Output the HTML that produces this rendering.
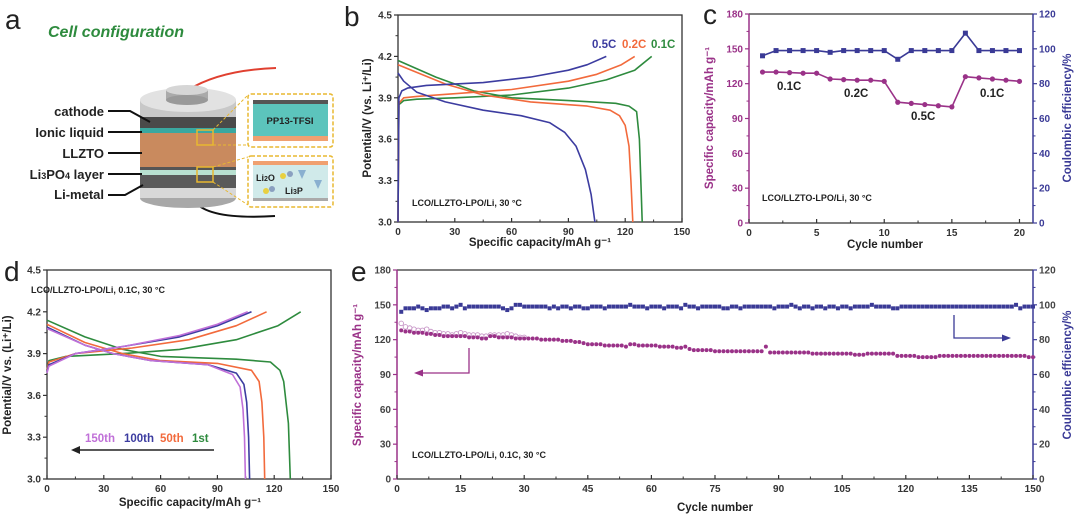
<!DOCTYPE html>
<html><head><meta charset="utf-8"><style>
html,body{margin:0;padding:0;background:#fff;}
svg{display:block;font-family:"Liberation Sans",Arial,sans-serif;}
</style></head><body>
<svg id="fig" width="1080" height="517" viewBox="0 0 1080 517">
<g id="panel-a">
<text x="5" y="29" font-size="28" fill="#222">a</text>
<text x="48" y="37" font-size="16" font-weight="bold" font-style="italic" fill="#2e8b3e">Cell configuration</text>
<path d="M188 90 Q220 70 276 68" stroke="#e04030" stroke-width="2" fill="none"/>
<path d="M195 202 Q210 220 275 216" stroke="#111" stroke-width="2" fill="none"/>
<g>
<ellipse cx="188" cy="198" rx="48" ry="10" fill="#a8a8a8"/>
<rect x="140" y="100" width="96" height="98" fill="#c8c8c8"/>
<rect x="140" y="117" width="96" height="11" fill="#4a4a4a"/>
<rect x="140" y="128" width="96" height="5" fill="#3aa8a0"/>
<rect x="140" y="133" width="96" height="34" fill="#c98a5e"/>
<rect x="140" y="167" width="96" height="3" fill="#555"/>
<rect x="140" y="170" width="96" height="5" fill="#b8e0d0"/>
<rect x="140" y="175" width="96" height="13" fill="#5a5a5a"/>
<rect x="140" y="188" width="96" height="10" fill="#d8d8d8"/>
<ellipse cx="188" cy="100" rx="48" ry="12" fill="#e2e2e2"/>
<rect x="166" y="90" width="42" height="10" fill="#aaa"/>
<ellipse cx="187" cy="100" rx="21" ry="5" fill="#999"/>
<ellipse cx="187" cy="90" rx="21" ry="5" fill="#d6d6d6"/>
<rect x="197" y="130" width="16" height="15" fill="none" stroke="#e8b830" stroke-width="1.5"/>
<rect x="197" y="167" width="16" height="15" fill="none" stroke="#e8b830" stroke-width="1.5"/>
<path d="M213 130 L248 95 M213 145 L248 145 M213 167 L248 157 M213 182 L248 205" stroke="#e8b830" stroke-width="1" stroke-dasharray="3,2" fill="none"/>
</g>
<g>
<rect x="248" y="94" width="85" height="53" rx="3" fill="#fff" stroke="#e8b830" stroke-width="1.5" stroke-dasharray="4,2"/>
<rect x="253" y="100" width="75" height="4" fill="#555"/>
<rect x="253" y="104" width="75" height="32" fill="#5cc4bc"/>
<rect x="253" y="136" width="75" height="5" fill="#f0a070"/>
<text x="290" y="124" font-size="9.5" font-weight="bold" text-anchor="middle" fill="#222">PP13-TFSI</text>
</g>
<g>
<rect x="248" y="156" width="85" height="51" rx="3" fill="#fff" stroke="#e8b830" stroke-width="1.5" stroke-dasharray="4,2"/>
<rect x="253" y="161" width="75" height="4" fill="#f0a070"/>
<rect x="253" y="165" width="75" height="33" fill="#d0eaea"/>
<rect x="253" y="198" width="75" height="3" fill="#aaa"/>
<text x="256" y="181" font-size="9" font-weight="bold" fill="#222">Li<tspan font-size="7">2</tspan>O</text>
<text x="285" y="194" font-size="9" font-weight="bold" fill="#222">Li<tspan font-size="7">3</tspan>P</text>
<circle cx="283" cy="176" r="3" fill="#e8d040"/><circle cx="290" cy="174" r="3" fill="#8aa0c0"/>
<circle cx="266" cy="191" r="3" fill="#e8d040"/><circle cx="272" cy="189" r="3" fill="#8aa0c0"/>
<path d="M298 170 l8 0 l-4 9 z" fill="#8ab0d0"/><path d="M314 180 l8 0 l-4 9 z" fill="#8ab0d0"/>
</g>
<g font-size="13" font-weight="bold" fill="#222" text-anchor="end">
<text x="104" y="116">cathode</text>
<text x="104" y="137">Ionic liquid</text>
<text x="104" y="158">LLZTO</text>
<text x="104" y="179">Li<tspan font-size="9">3</tspan>PO<tspan font-size="9">4</tspan> layer</text>
<text x="104" y="199">Li-metal</text>
</g>
<path d="M108 111 L130 111 L150 122 M108 132 L142 132 M108 153 L142 153 M108 174 L142 174 M108 195 L125 195 L143 185" stroke="#111" stroke-width="2" fill="none"/>
</g>
</svg>
<script>
// ---------- data ----------
const bXTicks=[0,30,60,90,120,150];
const bYTicks=[3.0,3.3,3.6,3.9,4.2,4.5];
const b01ChargeCap=[0,0.5,3,10,30,60,90,110,125,134];
const b01ChargeV=[3.0,3.85,3.88,3.89,3.9,3.92,3.97,4.03,4.1,4.2];
const b02ChargeCap=[0,0.5,3,10,30,60,90,105,118,125];
const b02ChargeV=[3.0,3.86,3.9,3.91,3.93,3.96,4.02,4.07,4.14,4.2];
const b05ChargeCap=[0,0.5,2,5,15,45,70,90,100,110];
const b05ChargeV=[3.0,3.9,3.95,3.97,3.99,4.01,4.05,4.1,4.14,4.2];
const b01DischCap=[0,20,40,60,90,115,122,126,127.5,128.5,129];
const b01DischV=[4.17,4.05,3.95,3.9,3.88,3.86,3.84,3.8,3.6,3.2,3.0];
const b02DischCap=[0,25,45,70,100,112,117,120,122,123,124];
const b02DischV=[4.14,4.0,3.92,3.87,3.84,3.81,3.77,3.7,3.55,3.3,3.0];
const b05DischCap=[0,3,10,25,45,65,80,88,94,99,102,104];
const b05DischV=[4.08,4.02,3.94,3.87,3.81,3.77,3.72,3.65,3.55,3.38,3.2,3.0];

const cCycles=[1,2,3,4,5,6,7,8,9,10,11,12,13,14,15,16,17,18,19,20];
const cCapacity=[130,130,129.5,129,129,124,123.5,123,123,122,104,103,102,101,100,126,125,124,123,122];
const cEfficiency=[96,99,99,99,99,98,99,99,99,99,94,99,99,99,99,109,99,99,99,99];
const cXTicks=[0,5,10,15,20];
const cYTicks=[0,30,60,90,120,150,180];
const cY2Ticks=[0,20,40,60,80,100,120];

const d1ChargeCap=[0,1,10,40,70,100,122,134];
const d1ChargeV=[3.78,3.85,3.88,3.9,3.93,4.0,4.1,4.2];
const d50ChargeCap=[0,1,15,45,75,100,116];
const d50ChargeV=[3.78,3.84,3.9,3.94,4.0,4.1,4.2];
const d100ChargeCap=[0,1,15,40,70,90,108];
const d100ChargeV=[3.77,3.82,3.9,3.95,4.02,4.1,4.2];
const d150ChargeCap=[0,1,15,40,70,90,106];
const d150ChargeV=[3.76,3.81,3.9,3.95,4.03,4.11,4.2];
const d1DischCap=[0,20,40,60,100,118,123,125,127.5,128.5];
const d1DischV=[4.14,4.02,3.93,3.88,3.86,3.84,3.78,3.7,3.4,3.0];
const d50DischCap=[0,20,40,60,90,108,112,113.5,114.5,115];
const d50DischV=[4.11,3.98,3.9,3.85,3.83,3.78,3.7,3.55,3.3,3.0];
const d100DischCap=[0,20,35,55,85,100,104,105.5,106.5,107];
const d100DischV=[4.09,3.96,3.9,3.85,3.82,3.76,3.68,3.55,3.3,3.0];
const d150DischCap=[0,20,35,55,85,98,102,103.5,104.3,104.8];
const d150DischV=[4.08,3.96,3.9,3.85,3.82,3.75,3.66,3.5,3.3,3.0];

const eCapacity=[128,127,127,126,126,126,125,125,124,124,
123,123,123,123,123,123,122,122,122,121,
121,123,123,122,122,122,122,121,121,121,
121,121,121,120,120,120,120,120,119,119,
119,118,118,117,116,116,116,116,115,115,
115,115,115,114,116,116,115,115,115,115,
115,114,114,114,114,113,113,114,112,111,
111,111,111,111,110,110,110,110,110,110,
110,110,110,110,110,110,114,109,109,109,
109,109,109,109,109,109,109,108,108,108,
108,108,108,108,108,108,108,107,107,107,
108,108,108,108,108,108,108,106,106,106,
106,106,105,105,105,105,105,106,106,106,
106,106,106,106,106,106,106,106,106,106,
106,106,106,106,106,106,106,106,105,105];
const eChargeCapacity=[134,131,130,129,128,128,129,127,126,126,125,125,124,125,126,125,124,124,124,123,123,124,124,124,124,125,124,123,122,122];
const eEfficiency=[96,98,98,98,99,98,97,98,98,98,
99,99,98,99,100,98,99,99,99,99,
99,99,99,99,98,97,98,100,100,99,
99,99,99,99,99,98,99,98,99,99,
98,99,99,98,98,99,99,99,98,99,
99,99,99,99,100,99,99,99,98,99,
99,99,98,99,99,99,98,100,99,99,
98,99,99,99,99,99,98,98,99,99,
98,99,99,99,99,99,99,99,98,99,
99,99,100,99,98,99,99,98,99,99,
98,99,99,98,99,99,98,99,99,99,
99,100,99,99,99,99,98,98,99,99,
99,99,99,99,99,99,99,99,99,99,
99,99,99,99,99,99,99,99,99,99,
99,99,99,99,99,100,98,99,99,99];
const eXTicks=[0,15,30,45,60,75,90,105,120,135,150];
const eYTicks=[0,30,60,90,120,150,180];
const eY2Ticks=[0,20,40,60,80,100,120];

// ---------- helpers ----------
const NS='http://www.w3.org/2000/svg';
const svg=document.getElementById('fig');
function mk(tag,attrs,parent){const e=document.createElementNS(NS,tag);for(const k in attrs)e.setAttribute(k,attrs[k]);(parent||svg).appendChild(e);return e;}
function tx(s,attrs,parent){const e=mk('text',attrs,parent);e.textContent=s;return e;}
function scale(d0,d1,r0,r1){return v=>r0+(v-d0)/(d1-d0)*(r1-r0);}
function fmt(v,dec){return v.toFixed(dec);}
function group(name){const g=mk('g',{});


return g;}
function xTicks(g,sx,vals,B,color){vals.forEach((v,i)=>{const x=sx(v);
mk('line',{x1:x,y1:B,x2:x,y2:B-4,stroke:color,'stroke-width':1.2},g);
if(i<vals.length-1){const xm=(x+sx(vals[i+1]))/2;mk('line',{x1:xm,y1:B,x2:xm,y2:B-2.5,stroke:color,'stroke-width':1},g);}
const t=tx(String(v),{x:x,y:B+13,'font-size':10,'font-weight':'bold','text-anchor':'middle',fill:'#333'},g);

});}
function yTicks(g,sy,vals,X,dir,color,labColor,dec){vals.forEach((v,i)=>{const y=sy(v);
mk('line',{x1:X,y1:y,x2:X+dir*4,y2:y,stroke:color,'stroke-width':1.2},g);
if(i<vals.length-1){const ym=(y+sy(vals[i+1]))/2;mk('line',{x1:X,y1:ym,x2:X+dir*2.5,y2:ym,stroke:color,'stroke-width':1},g);}
const t=tx(fmt(v,dec),{x:X+dir*6,y:y+3.5,'font-size':10,'font-weight':'bold','text-anchor':dir<0?'end':'start',fill:labColor},g);

});}
function line(g,xs,ys,sx,sy,color,name){const p=xs.map((x,i)=>sx(x).toFixed(1)+','+sy(ys[i]).toFixed(1)).join(' ');
const e=mk('polyline',{points:p,fill:'none',stroke:color,'stroke-width':1.6,'stroke-linejoin':'round'},g);


return e;}
function vtitle(g,s,x,y,color,size){const t=tx(s,{x:0,y:0,transform:`translate(${x},${y}) rotate(-90)`,'font-size':size||11.5,'font-weight':'bold','text-anchor':'middle',fill:color},g);return t;}
function ptext(g,s,x,y,color,size,name){const t=tx(s,{x:x,y:y,'font-size':size,'font-weight':'bold',fill:color},g);


return t;}
const GREEN='#2e8b3e',ORANGE='#f26a3c',BLUE='#3c3ca0',VIOLET='#c070d8',PURP='#9a3288',CEB='#3a3a96';

// ---------- panel b ----------
(function(){const g=group('panel-b-rate-voltage-profiles');
const L=398,R=682,T=15,B=222;const sx=scale(0,150,L,R),sy=scale(3,4.5,B,T);
tx('b',{x:344,y:26,'font-size':28,fill:'#222'},g);
mk('rect',{x:L,y:T,width:R-L,height:B-T,fill:'none',stroke:'#333','stroke-width':1.3},g);
xTicks(g,sx,bXTicks,B,'#333');yTicks(g,sy,bYTicks,L,-1,'#333','#333',1);
const yt=vtitle(g,'Potential/V (vs. Li⁺/Li)',371,118,'#222');


const xt=tx('Specific capacity/mAh g⁻¹',{x:540,y:246,'font-size':11.5,'font-weight':'bold','text-anchor':'middle',fill:'#222'},g);


line(g,b01ChargeCap,b01ChargeV,sx,sy,GREEN,'charge-0.1c');line(g,b01DischCap,b01DischV,sx,sy,GREEN,'discharge-0.1c');
line(g,b02ChargeCap,b02ChargeV,sx,sy,ORANGE,'charge-0.2c');line(g,b02DischCap,b02DischV,sx,sy,ORANGE,'discharge-0.2c');
line(g,b05ChargeCap,b05ChargeV,sx,sy,BLUE,'charge-0.5c');line(g,b05DischCap,b05DischV,sx,sy,BLUE,'discharge-0.5c');
ptext(g,'0.5C',592,48,BLUE,11.5,'legend-0.5c');ptext(g,'0.2C',622,48,ORANGE,11.5,'legend-0.2c');ptext(g,'0.1C',651,48,GREEN,11.5,'legend-0.1c');
ptext(g,'LCO/LLZTO-LPO/Li, 30 °C',412,206,'#222',9,'condition-note');})();

// ---------- panel c ----------
(function(){const g=group('panel-c-rate-cycling');
const L=749,R=1033,T=14,B=223;const sx=scale(0,21,L,R),sy=scale(0,180,B,T),sy2=scale(0,120,B,T);
tx('c',{x:703,y:24,'font-size':28,fill:'#222'},g);
mk('line',{x1:L,y1:T,x2:R,y2:T,stroke:'#333','stroke-width':1.3},g);
mk('line',{x1:L,y1:B,x2:R,y2:B,stroke:'#333','stroke-width':1.3},g);
mk('line',{x1:L,y1:T,x2:L,y2:B,stroke:PURP,'stroke-width':1.5},g);
mk('line',{x1:R,y1:T,x2:R,y2:B,stroke:CEB,'stroke-width':1.5},g);
xTicks(g,sx,cXTicks,B,'#333');yTicks(g,sy,cYTicks,L,-1,PURP,PURP,0);yTicks(g,sy2,cY2Ticks,R,1,CEB,CEB,0);
const a=vtitle(g,'Specific capacity/mAh g⁻¹',713,118,PURP);


const b=vtitle(g,'Coulombic efficiency/%',1071,118,CEB);


const xt=tx('Cycle number',{x:885,y:248,'font-size':11.5,'font-weight':'bold','text-anchor':'middle',fill:'#222'},g);


line(g,cCycles,cEfficiency,sx,sy2,CEB,'efficiency-line');line(g,cCycles,cCapacity,sx,sy,PURP,'capacity-line');
cCycles.forEach((c,i)=>{const s=mk('rect',{x:sx(c)-2.5,y:sy2(cEfficiency[i])-2.5,width:5,height:5,fill:CEB},g);


const p=mk('circle',{cx:sx(c),cy:sy(cCapacity[i]),r:2.6,fill:PURP},g);

});
ptext(g,'0.1C',777,90,'#222',11.5,'label-0.1c');ptext(g,'0.2C',844,97,'#222',11.5,'label-0.2c');
ptext(g,'0.5C',911,120,'#222',11.5,'label-0.5c');ptext(g,'0.1C',980,97,'#222',11.5,'label-0.1c-return');
ptext(g,'LCO/LLZTO-LPO/Li, 30 °C',762,201,'#222',9,'condition-note');})();

// ---------- panel d ----------
(function(){const g=group('panel-d-cycling-voltage-profiles');
const L=47,R=331,T=270,B=479;const sx=scale(0,150,L,R),sy=scale(3,4.5,B,T);
tx('d',{x:4,y:281,'font-size':28,fill:'#222'},g);
mk('rect',{x:L,y:T,width:R-L,height:B-T,fill:'none',stroke:'#333','stroke-width':1.3},g);
xTicks(g,sx,bXTicks,B,'#333');yTicks(g,sy,bYTicks,L,-1,'#333','#333',1);
const yt=vtitle(g,'Potential/V vs. (Li⁺/Li)',11,375,'#222');


const xt=tx('Specific capacity/mAh g⁻¹',{x:190,y:506,'font-size':11.5,'font-weight':'bold','text-anchor':'middle',fill:'#222'},g);


line(g,d1ChargeCap,d1ChargeV,sx,sy,GREEN,'charge-1st');line(g,d1DischCap,d1DischV,sx,sy,GREEN,'discharge-1st');
line(g,d50ChargeCap,d50ChargeV,sx,sy,ORANGE,'charge-50th');line(g,d50DischCap,d50DischV,sx,sy,ORANGE,'discharge-50th');
line(g,d100ChargeCap,d100ChargeV,sx,sy,BLUE,'charge-100th');line(g,d100DischCap,d100DischV,sx,sy,BLUE,'discharge-100th');
line(g,d150ChargeCap,d150ChargeV,sx,sy,VIOLET,'charge-150th');line(g,d150DischCap,d150DischV,sx,sy,VIOLET,'discharge-150th');
ptext(g,'LCO/LLZTO-LPO/Li, 0.1C, 30 °C',31,293,'#222',9,'condition-note');
ptext(g,'150th',85,442,VIOLET,11.5,'legend-150th');ptext(g,'100th',124,442,BLUE,11.5,'legend-100th');
ptext(g,'50th',160,442,ORANGE,11.5,'legend-50th');ptext(g,'1st',192,442,GREEN,11.5,'legend-1st');
const ar=mk('path',{d:'M214 450 L78 450',stroke:'#222','stroke-width':1.5,fill:'none'},g);


mk('path',{d:'M71 450 L80 446 L80 454 Z',fill:'#222'},g);})();

// ---------- panel e ----------
(function(){const g=group('panel-e-long-cycling');
const L=397,R=1033,T=270,B=479;const sx=scale(0,150,L,R),sy=scale(0,180,B,T),sy2=scale(0,120,B,T);
tx('e',{x:351,y:281,'font-size':28,fill:'#222'},g);
mk('line',{x1:L,y1:T,x2:R,y2:T,stroke:'#333','stroke-width':1.3},g);
mk('line',{x1:L,y1:B,x2:R,y2:B,stroke:'#333','stroke-width':1.3},g);
mk('line',{x1:L,y1:T,x2:L,y2:B,stroke:PURP,'stroke-width':1.5},g);
mk('line',{x1:R,y1:T,x2:R,y2:B,stroke:CEB,'stroke-width':1.5},g);
xTicks(g,sx,eXTicks,B,'#333');yTicks(g,sy,eYTicks,L,-1,PURP,'#444',0);yTicks(g,sy2,eY2Ticks,R,1,CEB,'#444',0);
const a=vtitle(g,'Specific capacity/mAh g⁻¹',361,375,PURP);


const b=vtitle(g,'Coulombic efficiency/%',1071,375,CEB);


const xt=tx('Cycle number',{x:715,y:511,'font-size':11.5,'font-weight':'bold','text-anchor':'middle',fill:'#222'},g);


eChargeCapacity.forEach((v,i)=>{const c=mk('circle',{cx:sx(i+1),cy:sy(v),r:2.3,fill:'none',stroke:'#c898c8','stroke-width':0.9},g);

});
eCapacity.forEach((v,i)=>{const c=mk('circle',{cx:sx(i+1),cy:sy(v),r:2,fill:PURP},g);

});
eEfficiency.forEach((v,i)=>{const s=mk('rect',{x:sx(i+1)-2,y:sy2(v)-2,width:4,height:4,fill:CEB},g);

});
const a1=mk('path',{d:'M469 348 L469 373 L421 373',stroke:PURP,'stroke-width':1.3,fill:'none'},g);


mk('path',{d:'M414 373 L423 369.5 L423 376.5 Z',fill:PURP},g);
const a2=mk('path',{d:'M954 315 L954 338 L1003 338',stroke:CEB,'stroke-width':1.3,fill:'none'},g);


mk('path',{d:'M1011 338 L1002 334.5 L1002 341.5 Z',fill:CEB},g);
ptext(g,'LCO/LLZTO-LPO/Li, 0.1C, 30 °C',412,458,'#222',9,'condition-note');})();
</script>
</body></html>
